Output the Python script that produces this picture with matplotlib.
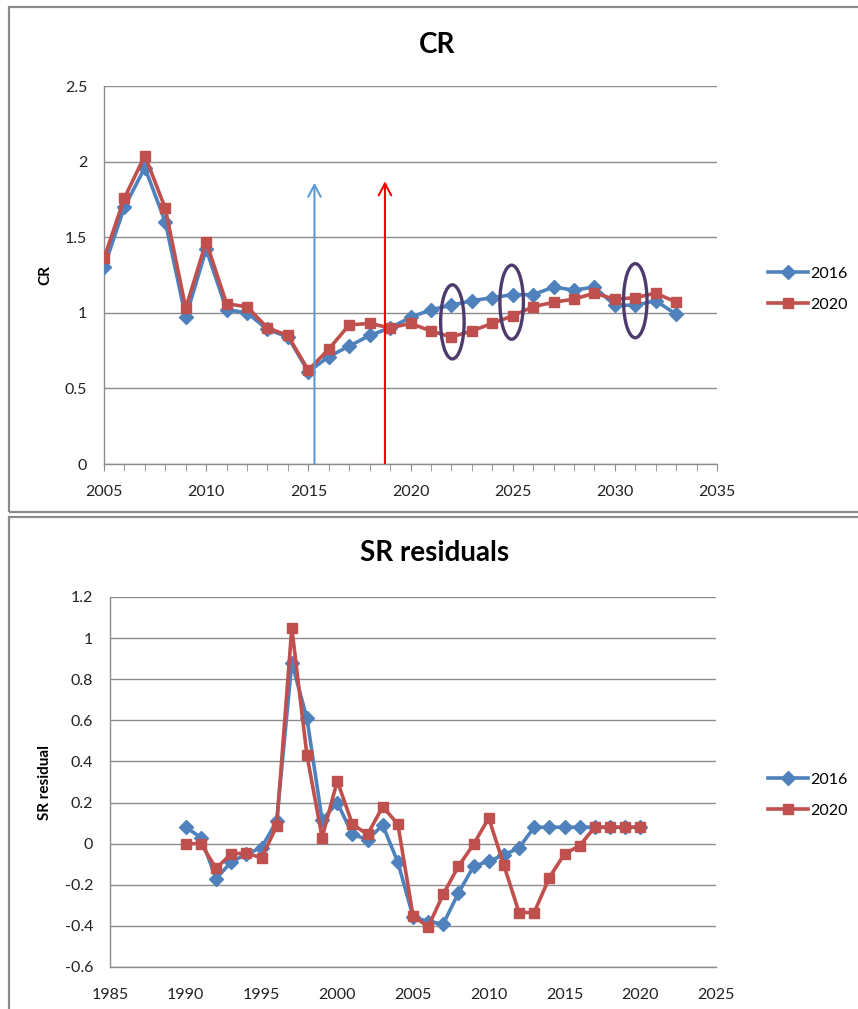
import numpy as np
import matplotlib.pyplot as plt
from matplotlib.patches import Ellipse, Rectangle, FancyArrowPatch
from matplotlib.ticker import MultipleLocator

plt.rcParams['font.family'] = ['Lato', 'DejaVu Sans']

BLUE = '#4F81BD'
RED = '#C0504D'
GRID = '#8C8C8C'

# CR series
cr_years = np.arange(2005, 2034)
cr_2016 = [1.30, 1.70, 1.96, 1.60, 0.97, 1.42, 1.02, 1.00, 0.89, 0.84, 0.61, 0.71,
           0.78, 0.85, 0.90, 0.97, 1.02, 1.05, 1.08, 1.10, 1.12, 1.12, 1.17, 1.15,
           1.17, 1.05, 1.05, 1.08, 0.99]
cr_2020 = [1.36, 1.76, 2.04, 1.69, 1.03, 1.47, 1.06, 1.04, 0.90, 0.85, 0.62, 0.76,
           0.92, 0.93, 0.90, 0.93, 0.88, 0.84, 0.88, 0.93, 0.98, 1.04, 1.07, 1.09,
           1.13, 1.09, 1.10, 1.13, 1.07]

# assessment-year markers and highlighted years on the CR panel
arrow_x = [2015.3, 2018.75]
arrow_top = [1.86, 1.87]
arrow_colors = ['#5B9BD5', '#FF0000']
ring_x = [2022.05, 2024.95, 2031.0]
ring_y = [0.94, 1.07, 1.08]

# SR residual series
sr_years = np.arange(1990, 2021)
sr_2016 = [0.08, 0.03, -0.17, -0.09, -0.05, -0.02, 0.11, 0.88, 0.61, 0.115, 0.20,
           0.045, 0.02, 0.09, -0.09, -0.355, -0.38, -0.39, -0.24, -0.11, -0.085,
           -0.055, -0.02, 0.08, 0.08, 0.08, 0.08, 0.08, 0.08, 0.08, 0.08]
sr_2020 = [0.0, 0.0, -0.12, -0.05, -0.045, -0.07, 0.085, 1.05, 0.43, 0.03, 0.305,
           0.095, 0.045, 0.18, 0.095, -0.35, -0.405, -0.245, -0.11, -0.003, 0.125,
           -0.105, -0.335, -0.335, -0.165, -0.05, -0.01, 0.08, 0.08, 0.08, 0.08]

W, H = 858, 1009
fig = plt.figure(figsize=(W / 100, H / 100), dpi=100)


def fx(px):
    return px / W


def fy(py):
    return 1 - py / H


# panel frames
for y0, y1 in [(7, 512), (517, 1030)]:
    fig.patches.append(Rectangle((fx(9), fy(y1)), fx(900) - fx(9), fy(y0) - fy(y1),
                                 transform=fig.transFigure, fill=False,
                                 edgecolor='#8A8A8A', lw=1.6))


def style(ax, ticks):
    for s in ['top', 'right']:
        ax.spines[s].set_visible(False)
    for s in ['left', 'bottom']:
        ax.spines[s].set_color(GRID)
        ax.spines[s].set_linewidth(1)
    ax.yaxis.grid(True, color=GRID, lw=1)
    ax.set_axisbelow(True)
    ax.tick_params(axis='y', length=0, pad=12, labelsize=11.5, labelcolor='#222222')
    if ticks:
        ax.xaxis.set_minor_locator(MultipleLocator(1))
        ax.tick_params(axis='x', which='both', length=5, color=GRID, direction='out')
        ax.tick_params(axis='x', pad=10, labelsize=11.5, labelcolor='#222222')
    else:
        ax.tick_params(axis='x', length=0, pad=15, labelsize=11.5, labelcolor='#222222')
    ax.xaxis.set_major_locator(MultipleLocator(5))


def plot_pair(ax, x, a, b):
    ax.plot(x, a, color=BLUE, lw=2.6, marker='D', ms=7, label='2016', zorder=3)
    ax.plot(x, b, color=RED, lw=2.6, marker='s', ms=7.2, label='2020', zorder=4)


# top panel: CR
ax1 = fig.add_axes([fx(104), fy(464), fx(717) - fx(104), fy(86) - fy(464)])
style(ax1, True)
plot_pair(ax1, cr_years, cr_2016, cr_2020)
ax1.set_xlim(2005, 2035)
ax1.set_ylim(0, 2.5)
ax1.set_yticks([0, 0.5, 1, 1.5, 2, 2.5])
ax1.set_yticklabels(['0', '0.5', '1', '1.5', '2', '2.5'])
for x, top, c in zip(arrow_x, arrow_top, arrow_colors):
    ax1.add_patch(FancyArrowPatch((x, 0), (x, top), arrowstyle='->,head_length=0.85,head_width=0.45',
                                  mutation_scale=10, color=c, lw=1.5, zorder=5,
                                  shrinkA=0, shrinkB=0))
for x, y in zip(ring_x, ring_y):
    ax1.add_patch(Ellipse((x, y), 1.15, 0.49, fill=False, edgecolor='#4E3B6E',
                          lw=2.4, zorder=6))
ax1.legend(loc='center left', bbox_to_anchor=(fx(760), fy(289)),
           bbox_transform=fig.transFigure, frameon=False, fontsize=11.5,
           handlelength=2.5, handletextpad=0.15, labelspacing=1.05, borderpad=0)
fig.text(fx(437), fy(45), 'CR', ha='center', va='center', fontsize=20, fontweight='bold')
fig.text(fx(45), fy(275), 'CR', ha='center', va='center', rotation=90,
         fontsize=11, fontweight='bold')

# bottom panel: SR residuals
ax2 = fig.add_axes([fx(110), fy(967), fx(716) - fx(110), fy(597) - fy(967)])
style(ax2, False)
plot_pair(ax2, sr_years, sr_2016, sr_2020)
ax2.set_xlim(1985, 2025)
ax2.set_ylim(-0.6, 1.2)
yt = np.round(np.arange(-0.6, 1.21, 0.2), 1)
ax2.set_yticks(yt)
ax2.set_yticklabels([('%g' % v) for v in yt])
ax2.legend(loc='center left', bbox_to_anchor=(fx(760), fy(795)),
           bbox_transform=fig.transFigure, frameon=False, fontsize=11.5,
           handlelength=2.5, handletextpad=0.15, labelspacing=1.05, borderpad=0)
fig.text(fx(435), fy(553), 'SR residuals', ha='center', va='center', fontsize=20,
         fontweight='bold')
fig.text(fx(45), fy(783), 'SR residual', ha='center', va='center', rotation=90,
         fontsize=11, fontweight='bold')

fig.savefig('out.png', dpi=100)
